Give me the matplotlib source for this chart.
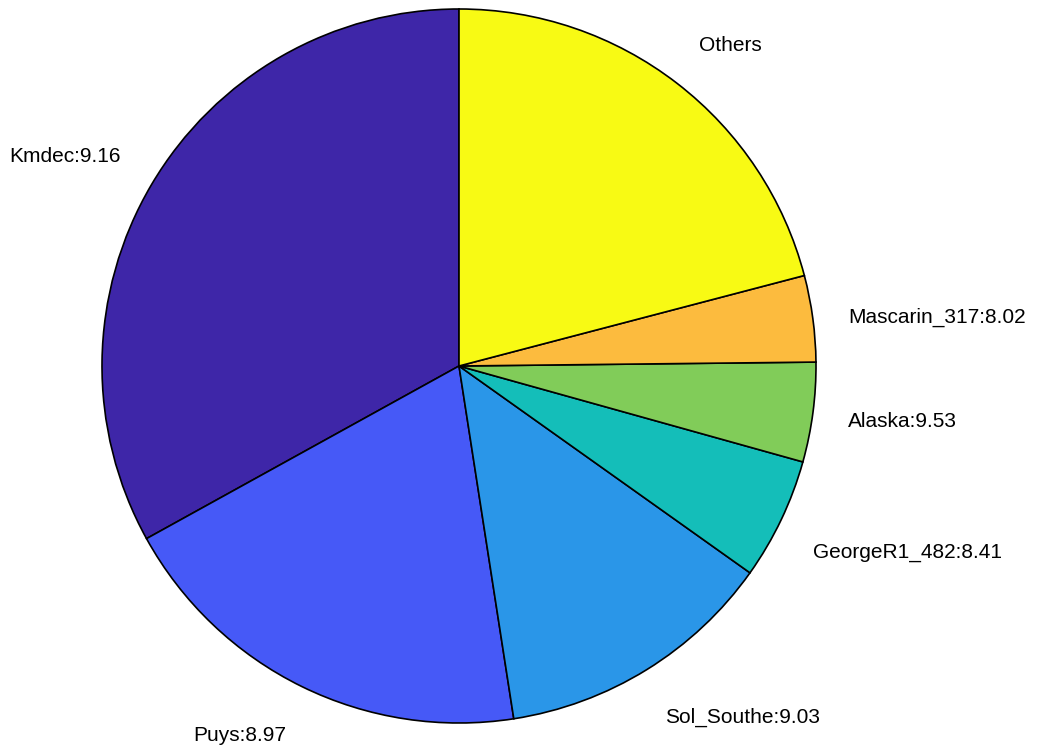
import numpy as np
import matplotlib.pyplot as plt

plt.rcParams['font.family'] = ['Liberation Sans', 'DejaVu Sans']

etiquetas = ["Kmdec:9.16", "Puys:8.97", "Sol_Southe:9.03", "GeorgeR1_482:8.41",
             "Alaska:9.53", "Mascarin_317:8.02", "Others"]
porcentajes = [33.0, 19.4, 12.7, 5.5, 4.5, 3.9, 20.9]
colores = ["#3E26A8", "#4659F7", "#2A96E8", "#14BEB9", "#81CC59", "#FCBB3E", "#F8FA14"]

fig = plt.figure(figsize=(10.37, 7.49), dpi=100)
W, H = 1037, 749
cx, cy, r = 459, 366, 357
ax = fig.add_axes([(cx - r) / W, (H - cy - r) / H, 2 * r / W, 2 * r / H])

wedges, textos = ax.pie(porcentajes, labels=etiquetas, colors=colores, startangle=90,
                        counterclock=True, labeldistance=1.1,
                        wedgeprops=dict(edgecolor="black", linewidth=1.2),
                        textprops=dict(fontsize=15))

for t in textos:
    x, y = t.get_position()
    t.set_ha("left" if x > 0 else "right")
    if y > 0.3:
        t.set_va("bottom")
    elif y < -0.3:
        t.set_va("top")
        t.set_y(y - 0.022)
    else:
        t.set_va("center")
        t.set_y(y - 0.011)
    t.set_clip_on(False)

ax.set_xlim(-1, 1)
ax.set_ylim(-1, 1)
ax.set_aspect("auto")
ax.axis("off")

fig.savefig("out.png", dpi=100)
